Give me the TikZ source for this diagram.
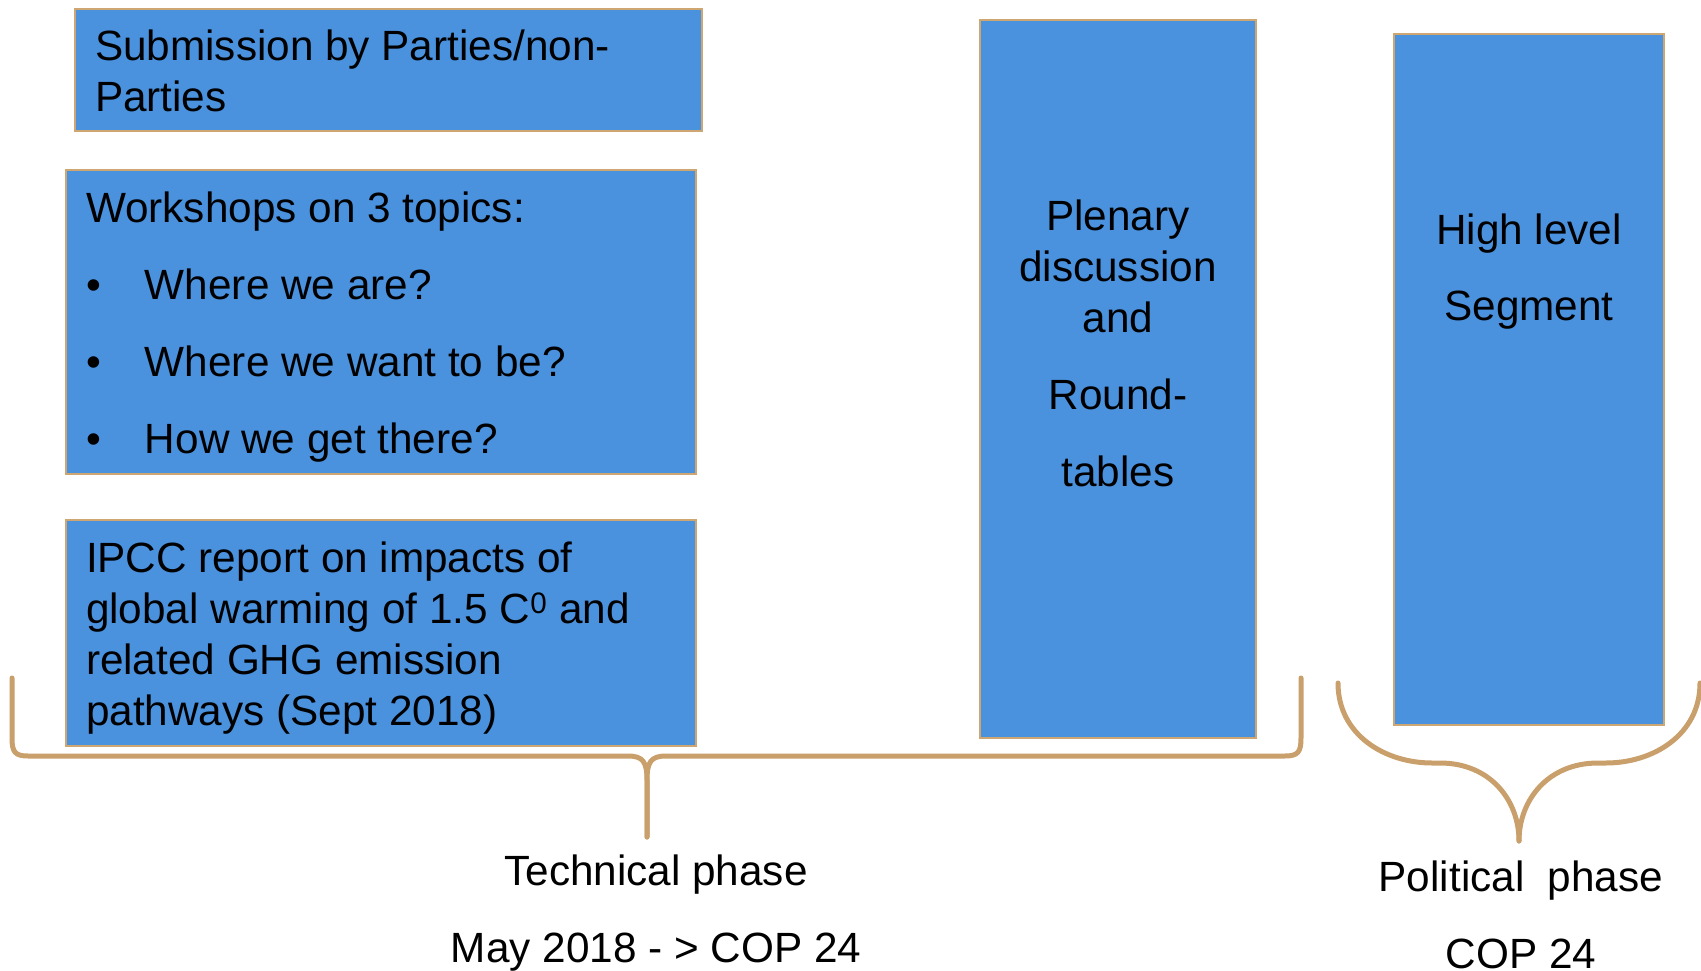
\documentclass[tikz,border=0pt]{standalone}
\usepackage{fontspec}
\setmainfont{Liberation Sans}
\usetikzlibrary{positioning}

\definecolor{stage fill color}{HTML}{4A91DE}
\definecolor{stage edge color}{HTML}{CDA672}
\definecolor{brace color}{HTML}{C9A06C}
\newcommand{\topicbullet}{\makebox[59pt][l]{•}}

\tikzset{
    x={1pt},
    y={-1pt},
    stage box/.style={
        rectangle,
        fill=stage fill color,
        draw=stage edge color,
        line width={2.5pt},
        anchor=north west,
        inner sep=0pt,
        outer sep=0pt,
    },
    % base of a multi-line node = baseline of its last line
    stage text/.style={
        font={\fontsize{42.3}{51}\selectfont},
        inner sep=0pt,
        outer sep=0pt,
        align=left,
        anchor=base west,
    },
    centred text/.style={
        stage text,
        align=center,
        anchor=base,
    },
    phase brace/.style={
        draw=brace color,
        line width={5pt},
        line cap=round,
    },
}

\begin{document}
\begin{tikzpicture}
\useasboundingbox (0,0) rectangle (1701,971);
% stages
\node[stage box, minimum width={627}, minimum height={122}] (submission) at (75,9) {};
\node[stage box, minimum width={630}, minimum height={304}] (workshops) at (66,170) {};
\node[stage box, minimum width={630}, minimum height={226}] (ipcc) at (66,520) {};
\node[stage box, minimum width={276}, minimum height={718}] (plenary) at (980,20) {};
\node[stage box, minimum width={270}, minimum height={691}] (high level) at (1394,34) {};
% stage texts
\node[stage text] (submission text) at ([shift={(20,103)}]submission.north west) {Submission by Parties/non-\\Parties};
\node[stage text] (workshops text) at ([shift={(20,283)}]workshops.north west) {Workshops on 3 topics:\\[26pt]
    \topicbullet Where we are?\\[26pt]
    \topicbullet Where we want to be?\\[26pt]
    \topicbullet How we get there?};
\node[stage text] (ipcc text) at ([shift={(20,205)}]ipcc.north west) {IPCC report on impacts of\\global warming of 1.5 C\textsuperscript{0} and\\related GHG emission\\pathways (Sept 2018)};
\node[centred text] (plenary text) at ([shift={(0,466)}]plenary.north) {Plenary\\discussion\\and\\[26pt]Round-\\[26pt]tables};
\node[centred text] (high level text) at ([shift={(0,286)}]high level.north) {High level\\[25pt]Segment};
% braces
\coordinate (technical tip) at (647,837);
\coordinate (political tip) at (1519,841);
\path[phase brace] (12,678) -- (12,738) .. controls (12,752) and (15,756) .. (28,756) -- (628,756) .. controls (643,756) and (647,762) .. (647,780) -- (technical tip);
\path[phase brace] (technical tip) -- (647,780) .. controls (647,762) and (651,756) .. (666,756) -- (1285,756) .. controls (1298,756) and (1301,752) .. (1301,738) -- (1301,678);
\path[phase brace] (1338,683) .. controls (1338,735) and (1385,763) .. (1432,763) -- (1440,763) .. controls (1490,763) and (1519,800) .. (political tip);
\path[phase brace] (political tip) .. controls (1519,800) and (1548,763) .. (1598,763) -- (1606,763) .. controls (1653,763) and (1700,735) .. (1700,683);
% phase labels
\node[centred text] (technical label) at ([shift={(9,125)}]technical tip) {Technical phase\\[26pt]May 2018 - > COP 24};
\node[centred text] (political label) at ([shift={(2,127)}]political tip) {Political~~phase\\[26pt]COP 24};
\end{tikzpicture}
\end{document}
